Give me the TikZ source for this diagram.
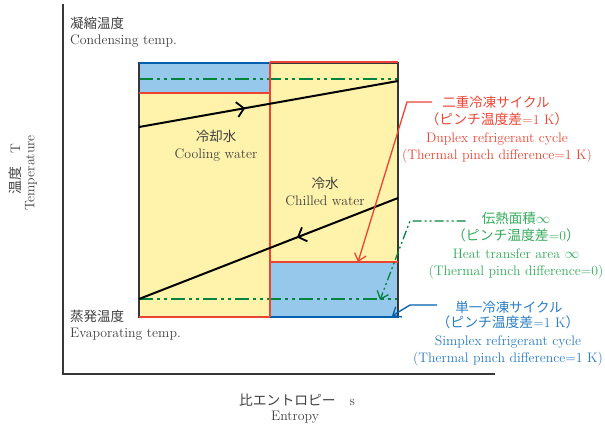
\documentclass[tikz,border=0pt]{standalone}
\usepackage{fontspec}
\newfontfamily\cjk{Noto Sans CJK JP}
\usetikzlibrary{arrows.meta,decorations.markings,positioning}
\definecolor{fillY}{RGB}{255,242,170}
\definecolor{fillB}{RGB}{150,200,236}
\definecolor{lnRed}{RGB}{236,68,52}
\definecolor{lnGreen}{RGB}{0,132,62}
\definecolor{txGreen}{RGB}{52,170,90}
\definecolor{lnBlue}{RGB}{0,95,175}
\definecolor{txBlue}{RGB}{40,125,195}
\definecolor{txGray}{RGB}{64,64,64}
\definecolor{frameGray}{RGB}{55,55,55}

\begin{document}
\begin{tikzpicture}[x=1pt,y=-1pt,
  lbl/.style={text=txGray,inner sep=0pt,align=center,font=\fontsize{13.8}{17.5}\selectfont},
  jlbl/.style={lbl,font=\cjk\fontsize{13.5}{17.5}\selectfont},
  axis/.style={line width=1.8pt,frameGray},
  water/.style={line width=2pt,black},
  tipmark/.style={postaction={decorate},decoration={markings,
    mark=at position #1 with {\arrow[line width=1.8pt]{Straight Barb[length=7pt,width=15pt]}}}},
  zeroline/.style={line width=2.4pt,lnGreen,dash pattern=on 14pt off 4pt on 3pt off 4pt on 3pt off 4pt},
  callout/.style={line width=1.3pt,-{Straight Barb[length=7pt,width=12pt]}}]
\useasboundingbox (0,0) rectangle (605,426);

% regions
\fill[fillY] (139,63) rectangle (398,317);
\fill[fillB] (139,63) rectangle (270,93);
\fill[fillB] (270,262) rectangle (398,317);
\draw[zeroline] (139,79) -- (398,79);
\draw[zeroline] (139,299) -- (398,299);
\draw[line width=1.6pt,frameGray] (139,63) rectangle (398,317);
\draw[line width=2pt,lnBlue] (139,62.5) -- (270,62.5);
\draw[line width=2pt,lnBlue] (270,317) -- (398,317);
\draw[line width=2pt,lnRed] (139,93) -- (270,93) (270,62) -- (398,62)
  (270,62) -- (270,317) (139,317) -- (270,317) (270,262) -- (398,262);

% water lines
\coordinate (cwIn) at (139,127);
\coordinate (cwOut) at (398,81);
\coordinate (chIn) at (398,198);
\coordinate (chOut) at (139,299);
\draw[water,tipmark=0.41] (cwIn) -- (cwOut);
\draw[water,tipmark=0.39] (chIn) -- (chOut);

% axes
\coordinate (yTop) at (63,4);
\coordinate (orig) at (63,374);
\coordinate (xEnd) at (495,374);
\draw[axis] (yTop) -- (orig) -- (xEnd);

% labels
\node[jlbl,anchor=west] (condJ) at (70,23) {凝縮温度};
\node[lbl,anchor=west] (condE) at (70,41) {Condensing temp.};
\node[jlbl,anchor=west] (evapJ) at (70,316) {蒸発温度};
\node[lbl,anchor=west] (evapE) at (70,334) {Evaporating temp.};
\node[jlbl] (coolJ) at (216,136) {冷却水};
\node[lbl] (coolE) at (216,155) {Cooling water};
\node[jlbl] (chillJ) at (325,183) {冷水};
\node[lbl] (chillE) at (325,201) {Chilled water};
\node[lbl,rotate=90] (tempJ) at (15,169) {{\cjk 温度}\quad T};
\node[lbl,rotate=90] (tempE) at (31,173) {Temperature};
\node[lbl] (entJ) at (297,400) {{\cjk 比エントロピー}\quad s};
\node[lbl] (entE) at (295,417) {Entropy};

% callouts
\node[jlbl,text=lnRed] (dupT) at (496,102) {二重冷凍サイクル};
\node[lbl,text=lnRed] (dupB) at (497,138) {{\cjk （ピンチ温度差}=1 K{\cjk ）}\\Duplex refrigerant cycle\\(Thermal pinch difference=1 K)};
\node[jlbl,text=txGreen] (htT) at (516,218) {伝熱面積$\infty$};
\node[lbl,text=txGreen] (htB) at (516,254) {{\cjk （ピンチ温度差}=0{\cjk ）}\\Heat transfer area $\infty$\\(Thermal pinch difference=0)};
\node[jlbl,text=txBlue] (simT) at (509,307) {単一冷凍サイクル};
\node[lbl,text=txBlue] (simB) at (508,341) {{\cjk （ピンチ温度差}=1 K{\cjk ）}\\Simplex refrigerant cycle\\(Thermal pinch difference=1 K)};

\coordinate (dupK) at (407,102);
\coordinate (dupTip) at (358,262);
\coordinate (htK) at (410,221);
\coordinate (htTip) at (380,300);
\coordinate (simK) at (410,305);
\coordinate (simTip) at (392,316);
\draw[callout,lnRed] ([xshift=-10pt]dupT.west |- dupK) -- (dupK) -- (dupTip);
\draw[callout,lnGreen,dash pattern=on 9pt off 3pt on 2pt off 3pt on 2pt off 3pt] ([xshift=-16pt]htT.west |- htK) -- (htK) -- (htTip);
\draw[callout,lnBlue] ([xshift=-18pt]simT.west |- simK) -- (simK) -- (simTip);
\end{tikzpicture}
\end{document}
